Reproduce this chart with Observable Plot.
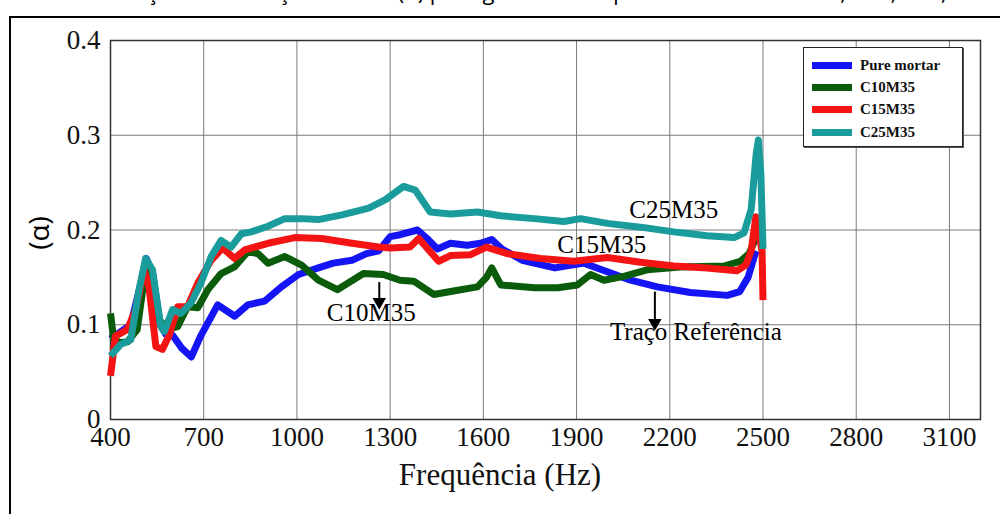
<!DOCTYPE html>
<html>
<head>
<meta charset="utf-8">
<script src="https://cdn.jsdelivr.net/npm/d3@7"></script>
<script src="https://cdn.jsdelivr.net/npm/@observablehq/plot@0.6"></script>
<style>
  html, body { margin: 0; padding: 0; background: #fff; }
  #wrap { position: relative; width: 1000px; height: 514px; overflow: hidden; background: #fff; }
  #title { position: absolute; left: 95px; top: -24px; white-space: nowrap; font-family: "Open Sans", sans-serif; font-size: 22px; line-height: 30px; color: #000; }
  #box { position: absolute; left: 9px; top: 16px; width: 1100px; height: 700px; border: 2px solid #000; }
  #chart { position: absolute; left: 0; top: 0; }
  #ylab { position: absolute; left: 38px; top: 233px; transform: translate(-50%, -50%) rotate(-90deg); font-family: "Open Sans", sans-serif; font-size: 28px; color: #000; white-space: nowrap; }
  #xlab { position: absolute; left: 500px; top: 486px; transform: translate(-50%, -80%); font-family: "Liberation Serif", serif; font-size: 31px; color: #111; white-space: nowrap; }
  #legend { position: absolute; left: 803px; top: 47px; width: 158px; height: 98px; background: #fff; border: 1px solid #222; box-shadow: 1px 1px 0 #555; font-family: "Liberation Serif", serif; font-weight: bold; font-size: 15px; color: #111; }
  .li { position: absolute; left: 8px; height: 16px; display: flex; align-items: center; }
  .sw { width: 40px; height: 7px; margin-right: 8px; }
</style>
</head>
<body>
<div id="wrap">
  <div id="title">Variação da absorção sonora (α) para gama de frequências das amostras, C10, C15,</div>
  <div id="box"></div>
  <div id="chart"></div>
  <div id="ylab">(α)</div>
  <div id="xlab">Frequência (Hz)</div>
  <div id="legend"></div>
</div>
<script>
// ---- data ----
const seriesNames = ["Pure mortar", "C10M35", "C15M35", "C25M35"];
const seriesColors = ["#1414f5", "#0a5c0a", "#f51414", "#1a9c9c"];

const pureMortar = [[400,0.085],[430,0.092],[465,0.10],[495,0.14],[515,0.17],[535,0.155],[560,0.10],[578,0.09],[600,0.089],[630,0.075],[660,0.066],[690,0.088],[745,0.121],[800,0.109],[842,0.121],[896,0.125],[950,0.140],[1005,0.153],[1069,0.160],[1117,0.165],[1177,0.168],[1224,0.175],[1263,0.178],[1300,0.193],[1332,0.195],[1388,0.200],[1419,0.191],[1452,0.180],[1494,0.186],[1548,0.184],[1591,0.186],[1627,0.190],[1660,0.180],[1725,0.168],[1830,0.160],[1924,0.165],[1999,0.156],[2074,0.147],[2160,0.140],[2266,0.134],[2385,0.131],[2425,0.135],[2452,0.150],[2470,0.170],[2478,0.178]];

const c10m35 = [[400,0.112],[410,0.085],[430,0.081],[455,0.082],[486,0.095],[505,0.14],[515,0.165],[528,0.15],[545,0.11],[583,0.095],[616,0.098],[648,0.119],[681,0.118],[713,0.137],[756,0.154],[799,0.161],[842,0.177],[875,0.175],[907,0.165],[961,0.172],[1015,0.163],[1069,0.147],[1130,0.137],[1214,0.154],[1278,0.153],[1332,0.147],[1376,0.146],[1440,0.132],[1527,0.137],[1581,0.140],[1610,0.150],[1627,0.160],[1656,0.142],[1764,0.139],[1840,0.139],[1902,0.142],[1945,0.153],[1988,0.147],[2052,0.151],[2127,0.158],[2234,0.161],[2374,0.162],[2427,0.167],[2455,0.175],[2475,0.19],[2485,0.20]];

const c15m35 = [[400,0.046],[416,0.088],[454,0.095],[481,0.116],[508,0.158],[524,0.140],[546,0.077],[567,0.074],[589,0.089],[616,0.119],[648,0.119],[681,0.144],[724,0.168],[761,0.181],[799,0.170],[832,0.179],[907,0.186],[993,0.192],[1080,0.191],[1177,0.186],[1263,0.182],[1300,0.181],[1364,0.182],[1392,0.191],[1424,0.179],[1456,0.167],[1494,0.173],[1559,0.174],[1610,0.182],[1677,0.175],[1784,0.170],[1891,0.167],[1999,0.171],[2106,0.166],[2213,0.162],[2320,0.160],[2416,0.157],[2445,0.163],[2462,0.178],[2477,0.214],[2497,0.178],[2500,0.126]];

const c25m35 = [[400,0.067],[432,0.079],[465,0.084],[492,0.137],[513,0.170],[535,0.158],[562,0.098],[573,0.093],[600,0.116],[627,0.112],[659,0.123],[691,0.144],[724,0.172],[756,0.189],[788,0.182],[821,0.196],[853,0.198],[907,0.204],[961,0.212],[1015,0.212],[1069,0.211],[1145,0.216],[1231,0.223],[1285,0.232],[1343,0.246],[1381,0.242],[1429,0.219],[1494,0.217],[1581,0.219],[1656,0.215],[1764,0.212],[1859,0.209],[1913,0.212],[1999,0.207],[2106,0.203],[2213,0.198],[2320,0.194],[2407,0.192],[2439,0.197],[2462,0.222],[2478,0.28],[2485,0.295],[2493,0.26],[2500,0.18]];

const xTicks = [400, 700, 1000, 1300, 1600, 1900, 2200, 2500, 2800, 3100];
const yTicks = [0, 0.1, 0.2, 0.3, 0.4];
const yTickLabels = ["0", "0.1", "0.2", "0.3", "0.4"];

// annotations
const annLabels = ["C25M35", "C15M35", "C10M35", "Traço Referência"];
const annX = [2213, 1981, 1239, 2284];
const annY = [0.221, 0.184, 0.112, 0.092];
const arrowX = [1265, 2152];
const arrowY1 = [0.145, 0.135];
const arrowY2 = [0.124, 0.102];

// ---- build tables ----
const allSeries = [pureMortar, c10m35, c15m35, c25m35];
const rows = allSeries.flatMap((s, i) => s.map(([f, v]) => ({f, v, s: seriesNames[i]})));
const ann = annLabels.map((t, i) => ({t, x: annX[i], y: annY[i]}));
const arrows = arrowX.map((x, i) => ({x, y1: arrowY1[i], y2: arrowY2[i]}));

const serif = "'Liberation Serif', 'Times New Roman', serif";

const chart = Plot.plot({
  width: 1000,
  height: 514,
  marginLeft: 110,
  marginRight: 20,
  marginTop: 40,
  marginBottom: 95,
  style: {fontFamily: serif, fontSize: "27px", background: "transparent", color: "#111"},
  x: {domain: [400, 3200], label: null},
  y: {domain: [0, 0.4], label: null},
  color: {domain: seriesNames, range: seriesColors},
  marks: [
    Plot.gridX(xTicks, {stroke: "#7a7a7a", strokeOpacity: 1, strokeWidth: 1}),
    Plot.gridY(yTicks, {stroke: "#7a7a7a", strokeOpacity: 1, strokeWidth: 1}),
    Plot.frame({stroke: "#333", strokeWidth: 1.5}),
    Plot.line(rows, {x: "f", y: "v", z: "s", stroke: "s", strokeWidth: 7, strokeLinejoin: "round", strokeLinecap: "butt"}),
    Plot.axisX(xTicks, {tickSize: 0, tickPadding: 7, tickFormat: d => String(d), fontSize: 27}),
    Plot.axisY(yTicks, {tickSize: 0, tickPadding: 10, tickFormat: (d, i) => yTickLabels[i], fontSize: 27}),
    Plot.text(ann, {x: "x", y: "y", text: "t", fontSize: 25, fill: "#000", fontFamily: serif}),
    Plot.link(arrows, {x1: "x", x2: "x", y1: "y1", y2: "y2", stroke: "#000", strokeWidth: 2}),
    Plot.dot(arrows, {x: "x", y: "y2", symbol: "triangle", rotate: 180, r: 5, fill: "#000", stroke: "none"})
  ]
});
document.getElementById("chart").appendChild(chart);

// legend
const lg = document.getElementById("legend");
const rowTops = [9, 31, 53, 76];
seriesNames.forEach((n, i) => {
  const d = document.createElement("div");
  d.className = "li";
  d.style.top = rowTops[i] + "px";
  d.innerHTML = `<div class="sw" style="background:${seriesColors[i]}"></div><span>${n}</span>`;
  lg.appendChild(d);
});
</script>
</body>
</html>
